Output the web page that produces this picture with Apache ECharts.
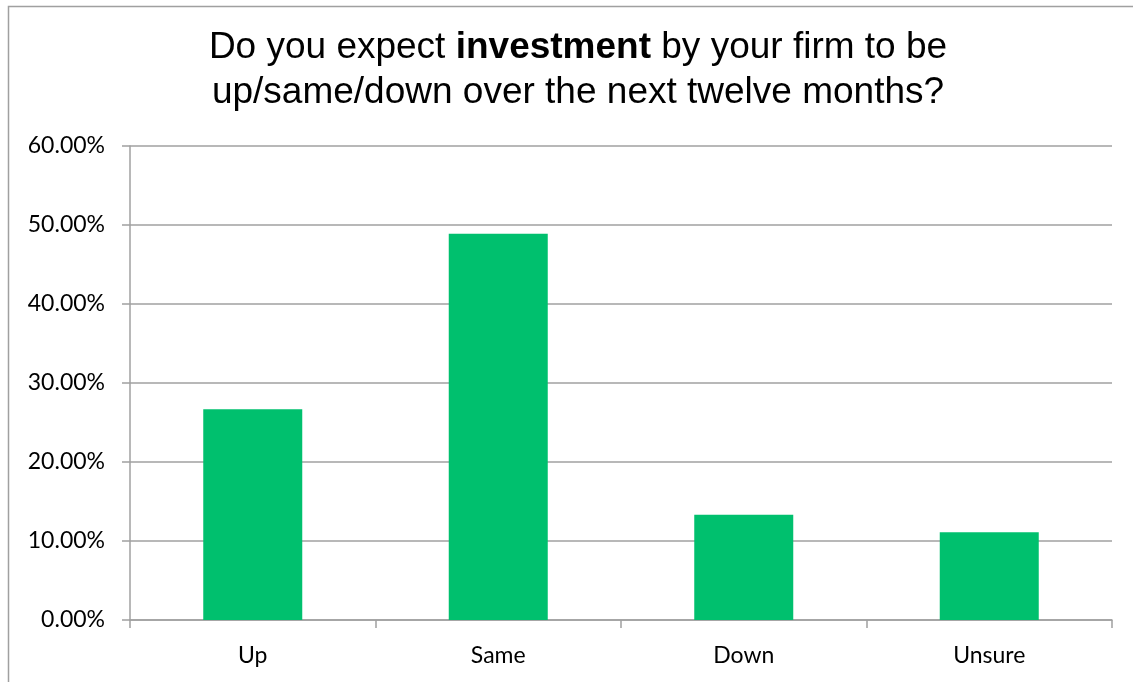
<!DOCTYPE html>
<html>
<head>
<meta charset="utf-8">
<script src="https://cdn.jsdelivr.net/npm/echarts@6/dist/echarts.min.js"></script>
<style>
html,body{margin:0;padding:0;background:#fff;}
#chart{width:1133px;height:682px;}
</style>
</head>
<body>
<div id="chart"></div>
<script>
var categories = ['Up', 'Same', 'Down', 'Unsure'];
var values = [0.2667, 0.4889, 0.1333, 0.1111];
var yTicks = { min: 0, max: 0.6, interval: 0.1 };

var chart = echarts.init(document.getElementById('chart'), null, { renderer: 'canvas' });
chart.setOption({
  backgroundColor: '#ffffff',
  animation: false,
  graphic: [{
    type: 'rect',
    shape: { x: 8.5, y: 6.5, width: 1300, height: 800 },
    style: { fill: 'none', stroke: '#a0a0a0', lineWidth: 1.5 },
    silent: true
  }],
  title: {
    text: '{n|Do you expect }{b|investment}{n| by your firm to be}\n{n|up/same/down over the next twelve months?}',
    left: 573,
    top: 20,
    textAlign: 'center',
    textStyle: {
      fontWeight: 'normal',
      fontFamily: 'Liberation Sans',
      fontSize: 37,
      rich: {
        n: { fontFamily: 'Liberation Sans', fontSize: 37, fontWeight: 'normal', color: '#000', lineHeight: 45 },
        b: { fontFamily: 'Liberation Sans', fontSize: 37, fontWeight: 'bold', color: '#000', lineHeight: 45 }
      }
    }
  },
  grid: { left: 130, right: 21, top: 146, bottom: 62, containLabel: false },
  xAxis: {
    type: 'category',
    data: categories,
    axisLine: { show: true, lineStyle: { color: '#a0a0a0', width: 1.5 } },
    axisTick: { show: true, length: 8, alignWithLabel: false, lineStyle: { color: '#a0a0a0', width: 1.5 } },
    axisLabel: { color: '#000', fontFamily: 'Lato', fontSize: 23, margin: 24 }
  },
  yAxis: {
    type: 'value',
    min: yTicks.min,
    max: yTicks.max,
    interval: yTicks.interval,
    axisLine: { show: true, lineStyle: { color: '#a0a0a0', width: 1.5 } },
    axisTick: { show: true, length: 8, lineStyle: { color: '#a0a0a0', width: 1.5 } },
    splitLine: { show: true, lineStyle: { color: '#a0a0a0', width: 1.5 } },
    axisLabel: {
      color: '#000', fontFamily: 'Lato', fontSize: 23, margin: 25,
      formatter: function (v) { return (v * 100).toFixed(2) + '%'; }
    }
  },
  series: [{
    type: 'bar',
    data: values,
    barWidth: 99,
    itemStyle: { color: '#00c06e' }
  }]
});
</script>
</body>
</html>
